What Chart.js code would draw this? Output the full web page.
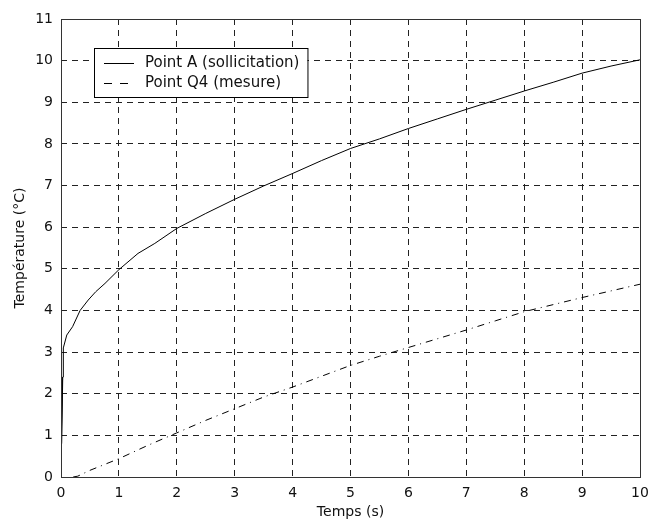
<!DOCTYPE html>
<html>
<head>
<meta charset="utf-8">
<script src="https://cdn.jsdelivr.net/npm/chart.js@4"></script>
<style>
  html, body { margin: 0; padding: 0; background: #ffffff; }
  #wrap { width: 650px; height: 525px; }
</style>
</head>
<body>
<div id="wrap"><canvas id="tempChart" width="650" height="525"></canvas></div>
<script>
// Point A (sollicitation)
const timeA = [0.005, 0.02, 0.01, 0.03, 0.04, 0.04, 0.1, 0.2, 0.33, 0.47, 0.6, 0.76, 1, 1.33, 1.62, 2, 2.5, 3, 3.5, 4, 4.5, 5, 5.5, 6, 6.5, 7, 7.5, 8, 8.5, 9, 9.5, 10];
const tempA = [0.8, 2.4, 0.8, 2.4, 2.4, 3.1, 3.41, 3.61, 4.0, 4.25, 4.45, 4.65, 4.98, 5.37, 5.61, 5.97, 6.33, 6.67, 6.99, 7.29, 7.6, 7.89, 8.12, 8.37, 8.6, 8.83, 9.05, 9.27, 9.48, 9.7, 9.87, 10.02];

// Point Q4 (mesure)
const timeQ4 = [0.21, 0.29, 0.5, 1, 1.5, 2, 2.5, 3, 3.5, 4, 4.5, 5, 5.5, 6, 6.5, 7, 7.5, 8, 8.5, 9, 9.5, 10];
const tempQ4 = [0, 0.02, 0.16, 0.44, 0.76, 1.06, 1.36, 1.64, 1.92, 2.16, 2.42, 2.68, 2.9, 3.11, 3.32, 3.53, 3.75, 3.97, 4.14, 4.31, 4.47, 4.63];

const xTicks = [0, 1, 2, 3, 4, 5, 6, 7, 8, 9, 10];
const yTicks = [0, 1, 2, 3, 4, 5, 6, 7, 8, 9, 10, 11];

const toPoints = (xs, ys) => xs.map((x, i) => ({ x: x, y: ys[i] }));

const FONT = { family: '"DejaVu Sans", sans-serif', size: 14 };

// cadre autour de la zone de tracé (box on)
const boxPlugin = {
  id: 'box',
  afterDatasetsDraw(chart) {
    const a = chart.chartArea;
    const ctx = chart.ctx;
    ctx.save();
    ctx.strokeStyle = '#333333';
    ctx.lineWidth = 1;
    ctx.strokeRect(Math.round(a.left) + 0.5, Math.round(a.top) + 0.5,
      Math.round(a.right - a.left), Math.round(a.bottom - a.top));
    ctx.restore();
  }
};

// légende encadrée dans le coin haut gauche
const boxLegend = {
  id: 'boxLegend',
  afterDraw(chart, args, opts) {
    const ctx = chart.ctx;
    ctx.save();
    ctx.font = opts.fontSize + 'px ' + FONT.family;
    const items = chart.data.datasets;
    let maxW = 0;
    items.forEach(d => { maxW = Math.max(maxW, ctx.measureText(d.label).width); });
    const x0 = opts.x, y0 = opts.y;
    const w = 51 + maxW + 8, h = opts.rowH * items.length + 9;
    ctx.fillStyle = '#ffffff';
    ctx.fillRect(x0, y0, w, h);
    ctx.strokeStyle = '#000000';
    ctx.lineWidth = 1;
    ctx.strokeRect(x0 + 0.5, y0 + 0.5, w, h);
    items.forEach((d, i) => {
      const cy = Math.round(y0 + 15 + i * opts.rowH) + 0.5;
      ctx.beginPath();
      ctx.setLineDash(opts.dashes[i]);
      ctx.moveTo(x0 + 10, cy);
      ctx.lineTo(x0 + 40, cy);
      ctx.strokeStyle = d.borderColor;
      ctx.stroke();
      ctx.setLineDash([]);
      ctx.fillStyle = '#111111';
      ctx.textBaseline = 'middle';
      ctx.fillText(d.label, x0 + 51, cy);
    });
    ctx.restore();
  }
};

new Chart(document.getElementById('tempChart').getContext('2d'), {
  type: 'line',
  data: {
    datasets: [
      {
        label: 'Point A (sollicitation)',
        data: toPoints(timeA, tempA),
        borderColor: '#000000',
        borderWidth: 1,
        pointRadius: 0,
        tension: 0,
        fill: false
      },
      {
        label: 'Point Q4 (mesure)',
        data: toPoints(timeQ4, tempQ4),
        borderColor: '#000000',
        borderWidth: 1,
        borderDash: [7, 5, 1, 5],
        pointRadius: 0,
        tension: 0,
        fill: false
      }
    ]
  },
  options: {
    responsive: false,
    animation: false,
    layout: { padding: { top: 19, right: 10, left: 0, bottom: 0 } },
    plugins: {
      legend: { display: false },
      tooltip: { enabled: false },
      boxLegend: { x: 94, y: 48, rowH: 20, fontSize: 15, dashes: [[], [8, 8]] }
    },
    scales: {
      x: {
        type: 'linear',
        min: 0,
        max: 10,
        afterBuildTicks: scale => { scale.ticks = xTicks.map(v => ({ value: v })); },
        afterFit: scale => {
          scale.height = 48;
          scale.paddingLeft = 0;
          scale.paddingRight = 0;
        },
        ticks: { color: '#111111', font: FONT, padding: 8, maxRotation: 0 },
        grid: { color: '#222222', lineWidth: 1, drawTicks: false },
        border: { display: false, dash: [6, 5] },
        title: { display: true, text: 'Temps (s)', color: '#111111', font: FONT, padding: { top: 0, bottom: 4 } }
      },
      y: {
        min: 0,
        max: 11,
        afterBuildTicks: scale => { scale.ticks = yTicks.map(v => ({ value: v })); },
        afterFit: scale => { scale.width = 61; },
        ticks: { color: '#111111', font: FONT, padding: 8 },
        grid: { color: '#222222', lineWidth: 1, drawTicks: false },
        border: { display: false, dash: [6, 5] },
        title: { display: true, text: 'Température (°C)', color: '#111111', font: FONT, padding: { top: 12, bottom: 0 } }
      }
    }
  },
  plugins: [boxPlugin, boxLegend]
});
</script>
</body>
</html>
